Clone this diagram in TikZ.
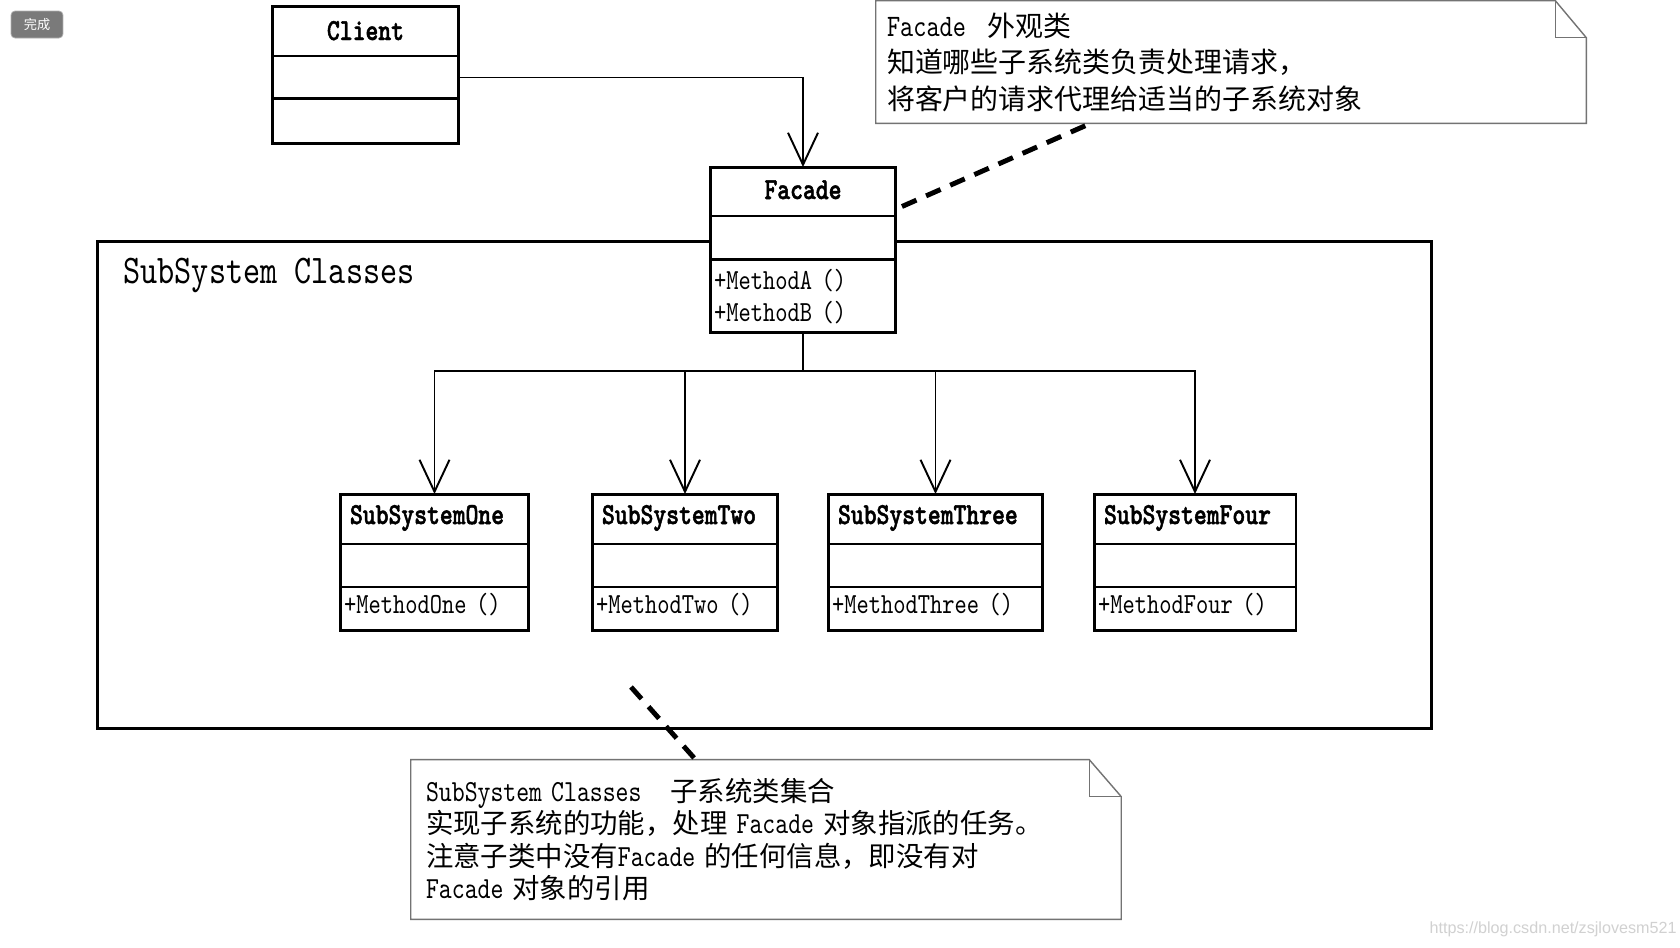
\documentclass[tikz,border=0pt]{standalone}
\usepackage{fontspec}
\usepackage{tikz}
\usetikzlibrary{positioning,arrows.meta}

\newfontfamily\cjk{Noto Sans CJK SC}
\newfontfamily\mono[FakeStretch=0.8]{lmmono10-regular.otf}
\newfontfamily\monob[FakeStretch=0.8,FakeBold=1.6]{lmmonolt10-bold.otf}
\newfontfamily\notelatin[FakeStretch=0.8,Scale=1.12]{lmmono10-regular.otf}
\newfontfamily\wmfont{Liberation Sans}

\tikzset{
    box/.style={draw, line width=1.7pt, fill=white, outer sep=0pt, inner ysep=0pt},
    headbox/.style={box, font=\monob\fontsize{17.4pt}{20pt}\selectfont},
    attrbox/.style={box},
    opsbox/.style={box, inner xsep=0.08cm, align=left, font=\mono\fontsize{16.6pt}{18.2pt}\selectfont},
    assoc/.style={line width=1.1pt, -{Straight Barb[length=0.64cm,width=0.6cm]}},
    link/.style={line width=2.8pt, dash pattern=on 9pt off 6pt},
    notebox/.style={inner ysep=0pt, align=left},
    noteline/.style={draw=black!55, line width=0.8pt}
}

\begin{document}
\begin{tikzpicture}[x=0.02cm, y=-0.02cm]
    \fill[white] (0,0) rectangle (1680,947);
    \useasboundingbox (0,0) rectangle (1680,947);

    % screenshot leftovers
    \node[draw=black!30, fill=black!52, rounded corners=0.08cm, minimum width=1.04cm, minimum height=0.54cm,
          inner sep=0pt, text=white, font=\cjk\fontsize{7.5pt}{8pt}\selectfont] (done) at (37,24.5) {完成};
    \node[anchor=east, inner sep=0pt, text=black!18, font=\wmfont\fontsize{9.2pt}{11pt}\selectfont] (mark) at (1677,929) {https://blog.csdn.net/zsjlovesm521};

    % Client
    \node[headbox, minimum width=3.74cm, minimum height=1cm, text height=0.5cm, text depth=0.14cm] (client) at (365.5,31) {Client};
    \node[attrbox, minimum width=3.74cm, minimum height=0.86cm, below=0pt of client] (clientattr) {};
    \node[attrbox, minimum width=3.74cm, minimum height=0.9cm, below=0pt of clientattr] (clientops) {};

    % package of subsystem classes
    \node[draw, line width=1.7pt, minimum width=26.7cm, minimum height=9.76cm, outer sep=0pt] (pkg) at (764.5,485) {};
    \node[anchor=base west, inner sep=0pt, font=\mono\fontsize{23.2pt}{26pt}\selectfont] (pkgname) at ([xshift=0.52cm,yshift=-0.84cm]pkg.north west) {SubSystem Classes};

    % Facade
    \node[headbox, minimum width=3.72cm, minimum height=0.98cm, text height=0.45cm, text depth=0.15cm] (facade) at (803,191.5) {Facade};
    \node[attrbox, minimum width=3.72cm, minimum height=0.88cm, below=0pt of facade] (facadeattr) {};
    \node[opsbox, text width=3.56cm, minimum height=1.46cm, below=0pt of facadeattr] (facadeops) {+MethodA ()\\+MethodB ()};

    % SubSystemOne
    \node[headbox, text width=3.38cm, inner xsep=0.2cm, align=left, minimum height=1cm, text height=0.4cm, text depth=0.2cm] (subone) at (434.5,519) {SubSystemOne};
    \node[attrbox, minimum width=3.78cm, minimum height=0.86cm, below=0pt of subone] (suboneattr) {};
    \node[opsbox, text width=3.62cm, minimum height=0.88cm, text height=0.4cm, text depth=0.2cm, below=0pt of suboneattr] (suboneops) {+MethodOne ()};

    % SubSystemTwo
    \node[headbox, text width=3.32cm, inner xsep=0.2cm, align=left, minimum height=1cm, text height=0.4cm, text depth=0.2cm] (subtwo) at (685,519) {SubSystemTwo};
    \node[attrbox, minimum width=3.72cm, minimum height=0.86cm, below=0pt of subtwo] (subtwoattr) {};
    \node[opsbox, text width=3.56cm, minimum height=0.88cm, text height=0.4cm, text depth=0.2cm, below=0pt of subtwoattr] (subtwoops) {+MethodTwo ()};

    % SubSystemThree
    \node[headbox, text width=3.9cm, inner xsep=0.2cm, align=left, minimum height=1cm, text height=0.4cm, text depth=0.2cm] (subthree) at (935.5,519) {SubSystemThree};
    \node[attrbox, minimum width=4.3cm, minimum height=0.86cm, below=0pt of subthree] (subthreeattr) {};
    \node[opsbox, text width=4.14cm, minimum height=0.88cm, text height=0.4cm, text depth=0.2cm, below=0pt of subthreeattr] (subthreeops) {+MethodThree ()};

    % SubSystemFour
    \node[headbox, text width=3.64cm, inner xsep=0.2cm, align=left, minimum height=1cm, text height=0.4cm, text depth=0.2cm] (subfour) at (1195,519) {SubSystemFour};
    \node[attrbox, minimum width=4.04cm, minimum height=0.86cm, below=0pt of subfour] (subfourattr) {};
    \node[opsbox, text width=3.88cm, minimum height=0.88cm, text height=0.4cm, text depth=0.2cm, below=0pt of subfourattr] (subfourops) {+MethodFour ()};

    % associations
    \draw[assoc] (clientattr.east) -| (facade.north);
    \coordinate (bus) at (803,371);
    \draw[line width=1.1pt] (facadeops.south) -- (bus);
    \draw[assoc] (bus) -| (subone.north);
    \draw[assoc] (bus) -| (subtwo.north);
    \draw[assoc] (bus) -| (subthree.north);
    \draw[assoc] (bus) -| (subfour.north);

    % note on Facade
    \node[notebox, minimum width=14.2cm, minimum height=2.44cm, text width=13.76cm, inner xsep=0.22cm,
          font=\cjk\fontsize{15.9pt}{20.8pt}\selectfont] (facadenote) at (1231,62)
          {{\notelatin Facade}\hspace{0.44cm}外观类\\知道哪些子系统类负责处理请求，\\将客户的请求代理给适当的子系统对象};
    \draw[noteline] (facadenote.north west) -- ([xshift=-0.62cm]facadenote.north east) -- ([yshift=-0.74cm]facadenote.north east)
        -- (facadenote.south east) -- (facadenote.south west) -- cycle;
    \draw[noteline] ([xshift=-0.62cm]facadenote.north east) |- ([yshift=-0.74cm]facadenote.north east);
    \draw[link] ([xshift=0.12cm,yshift=-0.3cm]facade.east) -- ([xshift=4.3cm]facadenote.south west);

    % note on the subsystem classes
    \node[notebox, minimum width=14.2cm, minimum height=3.18cm, text width=13.6cm, inner xsep=0.3cm,
          font=\cjk\fontsize{15.6pt}{18.5pt}\selectfont] (subnote) at (766,839.5)
          {{\notelatin SubSystem Classes}\hspace{0.58cm}子系统类集合\\
           实现子系统的功能，处理 {\notelatin Facade} 对象指派的任务。\\
           注意子类中没有{\notelatin Facade} 的任何信息，即没有对\\
           {\notelatin Facade} 对象的引用};
    \draw[noteline] (subnote.north west) -- ([xshift=-0.64cm]subnote.north east) -- ([yshift=-0.74cm]subnote.north east)
        -- (subnote.south east) -- (subnote.south west) -- cycle;
    \draw[noteline] ([xshift=-0.64cm]subnote.north east) |- ([yshift=-0.74cm]subnote.north east);
    \coordinate (pkgspot) at (631,687);
    \draw[link] (pkgspot) -- ([xshift=5.7cm]subnote.north west);
\end{tikzpicture}
\end{document}
